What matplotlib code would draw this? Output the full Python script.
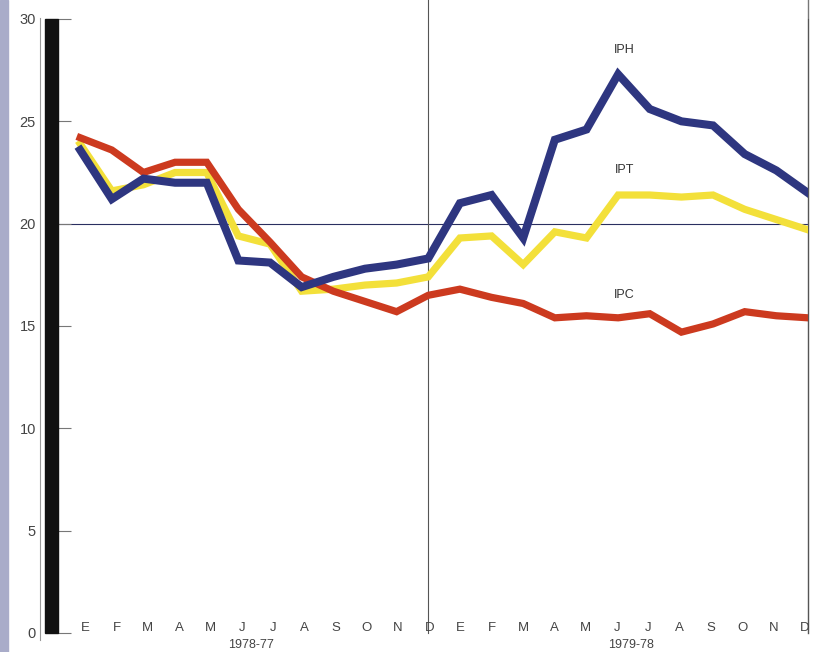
import matplotlib
matplotlib.use("Agg")
import matplotlib.pyplot as plt
from matplotlib.patches import Rectangle
from matplotlib.lines import Line2D

months = ["E", "F", "M", "A", "M", "J", "J", "A", "S", "O", "N", "D",
          "E", "F", "M", "A", "M", "J", "J", "A", "S", "O", "N", "D"]
period_labels = ["1978-77", "1979-78"]

iph = [23.6, 21.2, 22.2, 22.0, 22.0, 18.2, 18.1, 16.9, 17.4, 17.8, 18.0, 18.3,
       21.0, 21.4, 19.3, 24.1, 24.6, 27.3, 25.6, 25.0, 24.8, 23.4, 22.6, 21.5]
ipt = [23.9, 21.6, 21.9, 22.5, 22.5, 19.4, 19.0, 16.7, 16.8, 17.0, 17.1, 17.4,
       19.3, 19.4, 18.0, 19.6, 19.3, 21.4, 21.4, 21.3, 21.4, 20.7, 20.2, 19.7]
ipc = [24.2, 23.6, 22.5, 23.0, 23.0, 20.7, 19.1, 17.4, 16.7, 16.2, 15.7, 16.5,
       16.8, 16.4, 16.1, 15.4, 15.5, 15.4, 15.6, 14.7, 15.1, 15.7, 15.5, 15.4]

W, H = 815, 652
fig = plt.figure(figsize=(W / 100, H / 100), dpi=100)
fig.patch.set_facecolor("white")
plt.rcParams["font.family"] = ["Liberation Sans", "DejaVu Sans"]

left_px, right_px, bot_px, top_px = 58, 808, 633, 19
ax = fig.add_axes([left_px / W, 1 - bot_px / H, (right_px - left_px) / W, (bot_px - top_px) / H])
ax.set_xlim(-0.7, 23)
ax.set_ylim(0, 30)
for s in ["top", "bottom", "left"]:
    ax.spines[s].set_visible(False)
ax.spines["right"].set_color("#555555")
ax.spines["right"].set_linewidth(0.8)

x = list(range(len(months)))
ax.axhline(20, color="#2a2f60", lw=0.8, xmin=0, xmax=1, zorder=1)
ax.axvline(11, ymin=0, ymax=(bot_px) / (bot_px - top_px), color="#555555", lw=0.8, clip_on=False, zorder=1)
ax.axvline(23, ymin=0, ymax=(bot_px) / (bot_px - top_px), color="#777777", lw=1.0, clip_on=False, zorder=1)

ax.plot(x, ipt, color="#f3e03a", lw=5.2, solid_joinstyle="miter", zorder=3)
ax.plot(x, ipc, color="#cc3a1f", lw=5.2, solid_joinstyle="miter", zorder=4)
ax.plot(x, iph, color="#2e3680", lw=5.8, solid_joinstyle="miter", zorder=5)

ax.text(17.2, 28.5, "IPH", ha="center", va="center", fontsize=9, color="#333333")
ax.text(17.2, 22.6, "IPT", ha="center", va="center", fontsize=9, color="#333333")
ax.text(17.2, 16.5, "IPC", ha="center", va="center", fontsize=9, color="#333333")

ax.set_yticks([0, 5, 10, 15, 20, 25, 30])
ax.set_yticklabels(["0", "5", "10", "15", "20", "25", "30"])
ax.tick_params(axis="y", direction="in", length=9, width=0.8, color="#777777",
               pad=16, labelsize=10.5, labelcolor="#444444")
ax.set_xticks([])

tr = ax.get_xaxis_transform()
n = len(months)
for i, m in enumerate(months):
    xpos = i + 0.16 - 0.26 * i / (n - 1)
    ax.text(xpos, 0.008, m, transform=tr, ha="center", va="center",
            fontsize=9.5, color="#444444", clip_on=False)
ax.text(5.4, -0.02, period_labels[0], transform=tr, ha="center", va="center",
        fontsize=9, color="#444444", clip_on=False)
ax.text(17.4, -0.02, period_labels[1], transform=tr, ha="center", va="center",
        fontsize=9, color="#444444", clip_on=False)

# thick black left bar and thin guide line
fig.patches.append(Rectangle((45 / W, 1 - bot_px / H), 13 / W, (bot_px - top_px) / H,
                             transform=fig.transFigure, color="#111111", zorder=5))
fig.lines.append(Line2D([40 / W, 40 / W], [1 - 640 / H, 1 - 18 / H], transform=fig.transFigure,
                        color="#999999", lw=0.8))
# scanned left edge strip
fig.patches.append(Rectangle((0, 0), 8 / W, 1, transform=fig.transFigure, color="#a9acc9", zorder=0))

fig.savefig("out.png", dpi=100)
